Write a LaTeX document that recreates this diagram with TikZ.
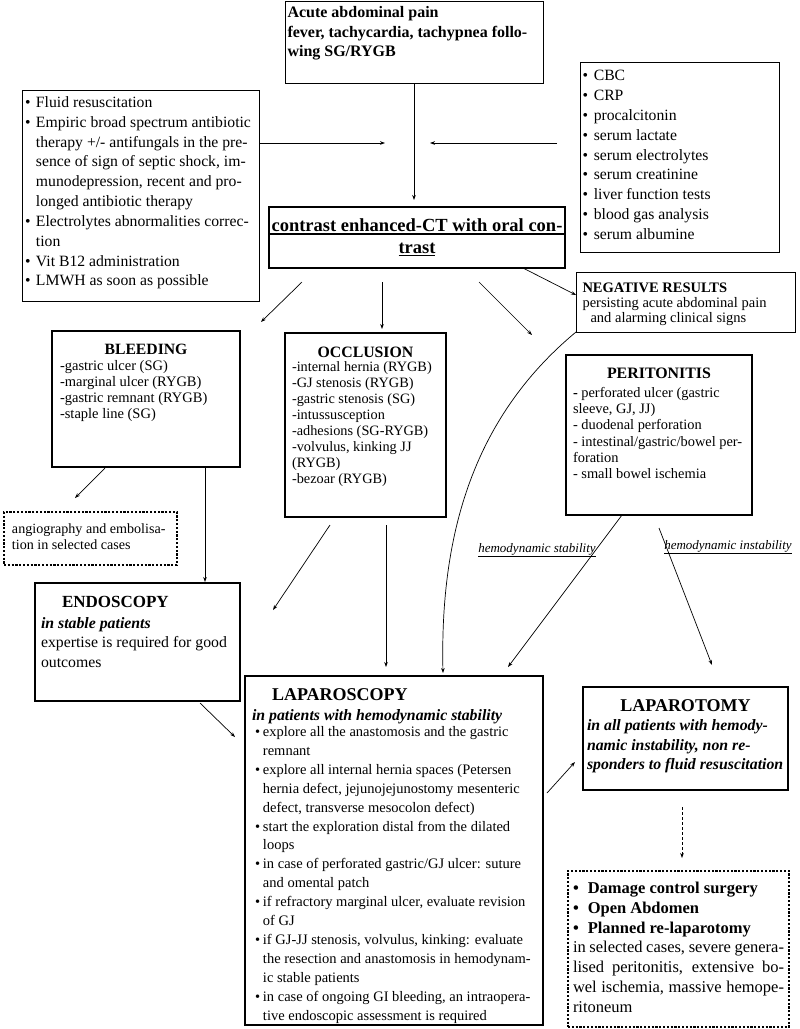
\documentclass[tikz,border=0pt]{standalone}
\usepackage{fontspec}
\setmainfont{Liberation Serif}
\usetikzlibrary{arrows.meta,calc}

% fixed size text box: width, height, inner position, content
\newcommand{\boxtxt}[4]{\parbox[c][#2][#3]{#1}{#4}}
\newcommand{\fsz}[2]{\fontsize{#1}{#2}\selectfont}

\tikzset{
	thinbox/.style={draw, line width=0.9pt, anchor=north west, inner ysep=0pt, outer sep=0pt},
	thickbox/.style={draw, line width=2.6pt, anchor=north west, inner ysep=0pt, outer sep=0pt},
	dotbox/.style={draw, line width=2.2pt, dash pattern=on 2.2pt off 1.6pt, anchor=north west, inner ysep=0pt, outer sep=0pt},
	arr/.style={-{Stealth[length=5pt,width=3.6pt]}, line width=0.7pt},
	cond/.style={font=\fsz{13}{15}\itshape, anchor=base, inner sep=0pt}
}

\begin{document}
\begin{tikzpicture}[x=1pt, y=-1pt]
	\useasboundingbox (0,0) rectangle (800,1029);

	% presentation
	\node[thinbox, inner xsep=2.5pt] (acute) at (285,1) {\boxtxt{253pt}{82pt}{t}{\fsz{16}{19.5}\bfseries\vspace*{3.3pt}%
		\begin{tabular}[t]{@{}l@{}}Acute abdominal pain\\fever, tachycardia, tachypnea follo-\\wing SG/RYGB\end{tabular}}};

	% first management
	\node[thinbox, inner xsep=3pt] (fluid) at (22,90) {\boxtxt{231pt}{211pt}{t}{\fsz{15.7}{19.85}\vspace*{3.4pt}%
		\begin{tabular}[t]{@{}l@{\hspace{5.5pt}}l@{}}
			\textbullet & Fluid resuscitation\\
			\textbullet & Empiric broad spectrum antibiotic\\
			& therapy +/- antifungals in the pre-\\
			& sence of sign of septic shock, im-\\
			& munodepression, recent and pro-\\
			& longed antibiotic therapy\\
			\textbullet & Electrolytes abnormalities correc-\\
			& tion\\
			\textbullet & Vit B12 administration\\
			\textbullet & LMWH as soon as possible
		\end{tabular}}};

	% laboratory tests
	\node[thinbox, inner xsep=2.5pt] (labs) at (580,62) {\boxtxt{194pt}{190pt}{t}{\fsz{15.7}{19.8}\vspace*{5.1pt}%
		\begin{tabular}[t]{@{}l@{\hspace{5.8pt}}l@{}}
			\textbullet & CBC\\
			\textbullet & CRP\\
			\textbullet & procalcitonin\\
			\textbullet & serum lactate\\
			\textbullet & serum electrolytes\\
			\textbullet & serum creatinine\\
			\textbullet & liver function tests\\
			\textbullet & blood gas analysis\\
			\textbullet & serum albumine
		\end{tabular}}};

	% imaging
	\node[thickbox, line width=2.8pt, minimum width=296pt, minimum height=61pt, inner xsep=2.5pt, align=center,
		font=\fsz{18.5}{22}\bfseries] (ct) at (269,207) {contrast enhanced-CT with oral con-\\\underline{trast}};
	\draw[line width=2pt] ($(ct.north west)+(0,27)$) -- ($(ct.north east)+(0,27)$);

	\node[thinbox, inner xsep=6.5pt] (neg) at (576,272) {\boxtxt{206pt}{60pt}{t}{\fsz{14.5}{15}\vspace*{9.5pt}%
		\begin{tabular}[t]{@{}l@{}}
			\textbf{NEGATIVE RESULTS}\\
			persisting acute abdominal pain\\
			\hspace{8pt}and alarming clinical signs
		\end{tabular}}};

	% diagnoses
	\node[thickbox, inner xsep=8pt] (bleed) at (52,331) {\boxtxt{172pt}{136pt}{t}{\fsz{14.5}{16}\vspace*{12.6pt}%
		{\centering\fsz{15.7}{16}\bfseries BLEEDING\par}
		\begin{tabular}[t]{@{}l@{}}
			-gastric ulcer (SG)\\
			-marginal ulcer (RYGB)\\
			-gastric remnant (RYGB)\\
			-staple line (SG)
		\end{tabular}}};

	\node[thickbox, inner xsep=7pt] (occl) at (285,333) {\boxtxt{147pt}{184pt}{t}{\fsz{14.3}{16}\vspace*{13.6pt}%
		{\centering\fsz{15.8}{16}\bfseries OCCLUSION\par}
		\vspace{-1.3pt}
		\begin{tabular}[t]{@{}l@{}}
			-internal hernia (RYGB)\\
			-GJ stenosis (RYGB)\\
			-gastric stenosis (SG)\\
			-intussusception\\
			-adhesions (SG-RYGB)\\
			-volvulus, kinking JJ\\
			(RYGB)\\
			-bezoar (RYGB)
		\end{tabular}}};

	\node[thickbox, inner xsep=7pt] (perit) at (566,355) {\boxtxt{172pt}{160pt}{t}{\fsz{14.4}{16.1}\vspace*{12.5pt}%
		{\centering\fsz{15.9}{16.1}\bfseries PERITONITIS\par}
		\vspace{3.6pt}
		\begin{tabular}[t]{@{}l@{}}
			\textbf{-} perforated ulcer (gastric\\
			sleeve, GJ, JJ)\\
			- duodenal perforation\\
			- intestinal/gastric/bowel per-\\
			foration\\
			- small bowel ischemia
		\end{tabular}}};

	\node[dotbox, inner xsep=8pt] (angio) at (4,512) {\boxtxt{157pt}{53pt}{c}{\fsz{14.1}{16}%
		\begin{tabular}[t]{@{}l@{}}angiography and embolisa-\\tion in selected cases\end{tabular}}};

	% treatments
	\node[thickbox, inner xsep=6pt] (endo) at (35,583) {\boxtxt{193pt}{118pt}{t}{\fsz{15.8}{19.8}\vspace*{12.8pt}%
		{\fsz{17}{19.8}\bfseries\hspace*{21pt}ENDOSCOPY\par}
		\vspace{1.2pt}
		\begin{tabular}[t]{@{}l@{}}
			\textbf{\textit{in stable patients}}\\
			expertise is required for good\\
			outcomes
		\end{tabular}}};

	\node[thickbox, inner xsep=7pt] (lapsc) at (245,676) {\boxtxt{284pt}{349pt}{t}{\fsz{14.5}{18.9}\vspace*{12.1pt}%
		{\fsz{18}{20.5}\bfseries\hspace*{20pt}LAPAROSCOPY\par}
		{\fsz{15.8}{20.5}\bfseries\itshape in patients with hemodynamic stability\par}
		\vspace{-2.9pt}
		\begin{tabular}[t]{@{\hspace{3pt}}l@{\hspace{2.9pt}}l@{}}
			\textbullet & explore all the anastomosis and the gastric\\
			& remnant\\
			\textbullet & explore all internal hernia spaces (Petersen\\
			& hernia defect, jejunojejunostomy mesenteric\\
			& defect, transverse mesocolon defect)\\
			\textbullet & start the exploration distal from the dilated\\
			& loops\\
			\textbullet & in case of perforated gastric/GJ ulcer: suture\\
			& and omental patch\\
			\textbullet & if refractory marginal ulcer, evaluate revision\\
			& of GJ\\
			\textbullet & if GJ-JJ stenosis, volvulus, kinking: evaluate\\
			& the resection and anastomosis in hemodynam-\\
			& ic stable patients\\
			\textbullet & in case of ongoing GI bleeding, an intraopera-\\
			& tive endoscopic assessment is required
		\end{tabular}}};

	\node[thickbox, inner xsep=4pt] (lapto) at (583,687) {\boxtxt{197pt}{103pt}{t}{\fsz{15.8}{19.5}\vspace*{12.1pt}%
		{\centering\fsz{18}{19.5}\bfseries LAPAROTOMY\par}
		\begin{tabular}[t]{@{}l@{}}
			\bfseries\itshape in all patients with hemody-\\
			\bfseries\itshape namic instability, non re-\\
			\bfseries\itshape sponders to fluid resuscitation
		\end{tabular}}};

	\node[dotbox, inner xsep=5pt] (damage) at (568,871) {\boxtxt{211pt}{156pt}{c}{\fsz{16.5}{19.9}%
		\begin{tabular}[t]{@{}l@{}}
			\textbf{\textbullet\hspace{9pt}Damage control surgery}\\
			\textbf{\textbullet\hspace{9pt}Open Abdomen}\\
			\textbf{\textbullet\hspace{9pt}Planned re-laparotomy}\\
			\makebox[211pt][s]{in selected cases, severe genera-}\\
			\makebox[211pt][s]{lised peritonitis, extensive bo-}\\
			\makebox[211pt][s]{wel ischemia, massive hemope-}\\
			ritoneum
		\end{tabular}}};

	% conditions
	\node[cond] (stab) at (537,552) {\underline{hemodynamic stability}};
	\node[cond] (instab) at (728,549) {\underline{hemodynamic instability}};

	% arrows
	\coordinate (j1) at (385,143);
	\coordinate (j2) at (430,143);
	\draw[arr] (acute.south) -- ($(acute.south |- ct.north)+(0,-7)$);
	\draw[arr] (fluid.east |- j1) -- (j1);
	\draw[arr] ($(labs.west |- j2)+(-23,0)$) -- (j2);

	\draw[arr] ($(ct.south)+(-115,14)$) -- ($(bleed.north east)+(21,-9)$);
	\draw[arr] ($(ct.south)+(-35,14)$) -- ($(occl.north)+(16.5,-4)$);
	\draw[arr] ($(ct.south)+(62,14)$) -- ($(perit.north west)+(-34,-20)$);
	\draw[arr] ($(ct.south)+(106,0)$) -- ($(neg.west)+(0,-7)$);

	\draw[arr] ($(bleed.south)+(-41,1)$) -- ($(angio.north)+(-15.5,-14)$);
	\draw[arr] ($(bleed.south)+(59,0)$) -- ($(endo.north east)+(-35,-1)$);
	\draw[arr] ($(occl.south)+(-35.5,8)$) -- ($(endo.north east)+(33,27)$);
	\draw[arr] ($(occl.south)+(20.5,8)$) -- ($(lapsc.north)+(-8,-9)$);
	\draw[arr] (neg.south west) .. controls (470,420) and (440,540) .. ($(lapsc.north)+(49,-3)$);
	\draw[arr] ($(perit.south)+(-37,0)$) -- ($(lapsc.north east)+(-35,-9)$);
	\draw[arr] ($(perit.south)+(0,13)$) -- ($(lapto.north)+(26.5,-22)$);

	\draw[arr] ($(endo.south)+(62.5,2)$) -- ($(lapsc.north west)+(-10,61)$);
	\draw[arr] ($(lapsc.east)+(4,-57.5)$) -- ($(lapto.west)+(-8,23.5)$);
	\draw[arr, dash pattern=on 3pt off 2pt] ($(lapto.south)+(-3.5,17)$) -- ($(damage.north)+(3.5,-13)$);
\end{tikzpicture}
\end{document}
